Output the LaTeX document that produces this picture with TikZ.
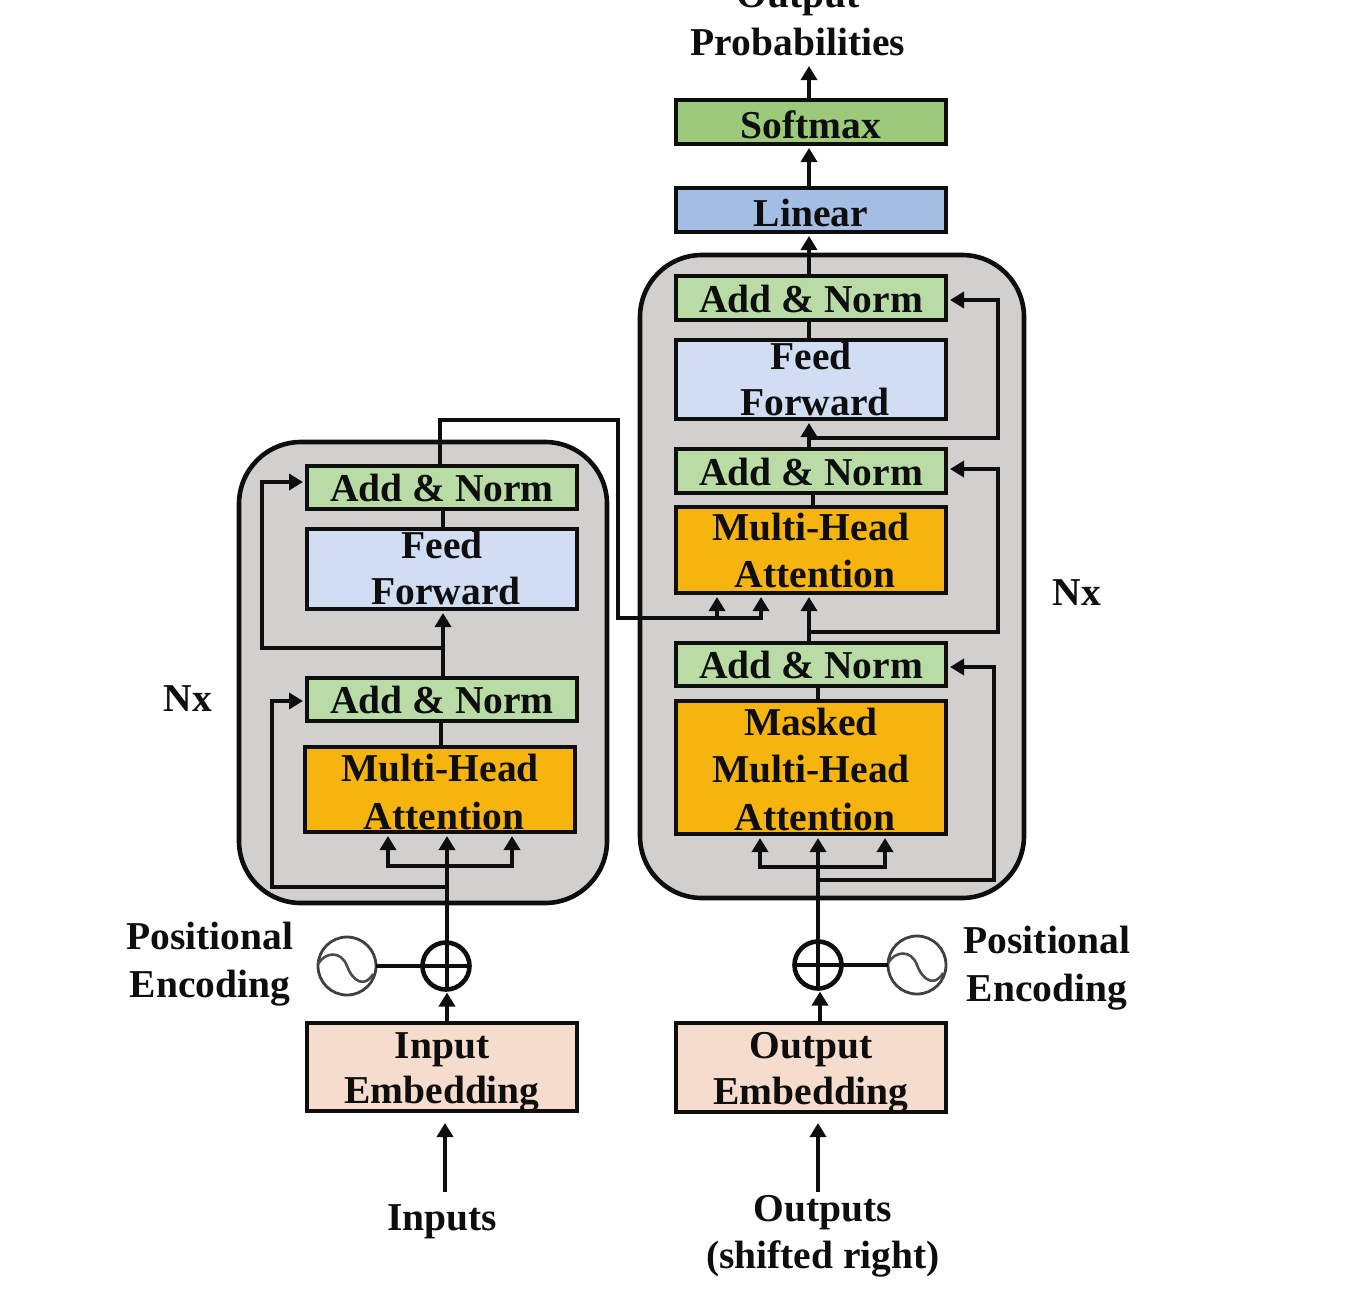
\documentclass[tikz,border=0pt]{standalone}
\usepackage{fontspec}
\setmainfont{Liberation Serif}
\usetikzlibrary{arrows.meta}
\definecolor{cSoft}{HTML}{9CC97A}
\definecolor{cLin}{HTML}{A4BDE2}
\definecolor{cAdd}{HTML}{B9DBA6}
\definecolor{cFF}{HTML}{D1DDF3}
\definecolor{cMHA}{HTML}{F6B40F}
\definecolor{cEmb}{HTML}{F6DCCC}
\definecolor{cGrey}{HTML}{D2CFCF}
\definecolor{cInk}{HTML}{0E0E0E}
\newcommand{\ltext}[2]{\raisebox{#1pt}[0pt][0pt]{\begin{tabular}{@{}c@{}}#2\end{tabular}}}
\tikzset{
  txt/.style={inner sep=0pt,outer sep=0pt,text=cInk,font=\fontsize{39.5}{47.5}\selectfont\bfseries},
  bx/.style n args={3}{txt,draw=cInk,line width=4.6pt,fill=#1,minimum width=#2pt,minimum height=#3pt},
  grp/.style n args={2}{draw=cInk,line width=4.6pt,fill=cGrey,rounded corners=62pt,minimum width=#1pt,minimum height=#2pt,inner sep=0pt,outer sep=0pt},
  sumnode/.style={circle,draw=cInk,line width=4.6pt,minimum size=47pt,inner sep=0pt,outer sep=0pt},
  osc/.style={circle,draw=black!75,line width=2.8pt,minimum size=58pt,inner sep=0pt,outer sep=0pt},
  sine/.style={draw=black!70,line width=2.6pt},
  conn/.style={draw=cInk,line width=4.6pt},
  arr/.style={conn,-{Triangle[length=14pt,width=16pt]}},
  short/.style={shorten >=4pt}
}
\begin{document}
\begin{tikzpicture}[x=1pt,y=-1pt]
\useasboundingbox (0,0) rectangle (1362,1294);
\clip (0,0) rectangle (1362,1294);
% groups
\node[grp={384}{643}] (grpD) at (832,576.5) {};
\node[grp={368}{461}] (grpE) at (423,672.5) {};
% decoder stack
\node[bx={cSoft}{270}{44}] (softmax) at (811,122) {\ltext{-13.5}{Softmax}};
\node[bx={cLin}{270}{44}] (linear) at (811,210) {\ltext{-13}{Linear}};
\node[bx={cAdd}{270}{44}] (addD3) at (811,298) {\ltext{-11}{Add \& Norm}};
\node[bx={cFF}{270}{79}] (ffD) at (811,379.5) {\ltext{-10}{Feed\\[-1.5pt]\hspace*{8pt}Forward}};
\node[bx={cAdd}{270}{44}] (addD2) at (811,471) {\ltext{-11}{Add \& Norm}};
\node[bx={cMHA}{270}{86}] (mhaD) at (811,550) {\ltext{-10.5}{Multi-Head\\\hspace*{8pt}Attention}};
\node[bx={cAdd}{270}{43}] (addD1) at (811,664.5) {\ltext{-11}{Add \& Norm}};
\node[bx={cMHA}{270}{133}] (masked) at (811,767.5) {\ltext{-12}{Masked\\Multi-Head\\\hspace*{8pt}Attention}};
\node[bx={cEmb}{270}{89}] (outEmb) at (811,1067.5) {\ltext{-10.5}{Output\\[-2pt]Embedding}};
% encoder stack
\node[bx={cAdd}{270}{43}] (addE2) at (442,487.5) {\ltext{-11}{Add \& Norm}};
\node[bx={cFF}{270}{80}] (ffE) at (442,569) {\ltext{-9.5}{Feed\\[-1.5pt]\hspace*{8pt}Forward}};
\node[bx={cAdd}{270}{43}] (addE1) at (442,699.5) {\ltext{-11}{Add \& Norm}};
\node[bx={cMHA}{270}{85}] (mhaE) at (440,789.5) {\ltext{-12.5}{Multi-Head\\\hspace*{8pt}Attention}};
\node[bx={cEmb}{270}{88}] (inEmb) at (442,1067) {\ltext{-10.5}{Input\\[-2pt]Embedding}};
% positional encoding
\node[sumnode] (sumE) at (446,966) {};
\node[sumnode] (sumD) at (818,965) {};
\node[osc] (oscE) at (347,966) {};
\node[osc] (oscD) at (917,965) {};
\draw[sine,shift={(oscE.center)}] (-29,-2) .. controls (-22,-14) and (-6,-16) .. (0,0) .. controls (6,16) and (18,22) .. (26,8);
\draw[sine,shift={(oscD.center)}] (-29,-2) .. controls (-22,-14) and (-6,-16) .. (0,0) .. controls (6,16) and (18,22) .. (26,8);
% free labels
\node[txt] (outProb) at (798,28) {\ltext{0}{Output\\Probabilities}};
\node[txt] (nxE) at (188,708) {\ltext{0}{Nx}};
\node[txt] (nxD) at (1077,602) {\ltext{0}{Nx}};
\node[txt] (peE) at (210,970) {\ltext{0}{Positional\\Encoding}};
\node[txt] (peD) at (1047,974) {\ltext{0}{Positional\\Encoding}};
\node[txt] (inLab) at (442,1227) {\ltext{0}{Inputs}};
\node[txt] (outLab) at (823,1241.5) {\ltext{0}{Outputs\\(shifted right)}};
% helper points
\coordinate (xD) at (809,0);
\coordinate (xDb) at (813,0);
\coordinate (xDm) at (818,0);
\coordinate (xDe) at (820,0);
\coordinate (pOut) at (809,66);
\coordinate (jD3) at (809,438);
\coordinate (rD3) at (998,300);
\coordinate (jD2) at (809,632);
\coordinate (rD2) at (998,469);
\coordinate (jDa) at (818,867);
\coordinate (jDb) at (818,880);
\coordinate (rD1) at (994,667);
\coordinate (xDl) at (760,0);
\coordinate (xDr) at (885,0);
\coordinate (xC) at (440,0);
\coordinate (cTR) at (618,420);
\coordinate (cBR) at (618,618);
\coordinate (xC2) at (761,0);
\coordinate (jC) at (717,618);
\coordinate (xE) at (443,0);
\coordinate (xEm) at (441,0);
\coordinate (xEs) at (447,0);
\coordinate (jE2) at (443,648);
\coordinate (lE2) at (262,482);
\coordinate (jEa) at (447,866);
\coordinate (jEb) at (447,887);
\coordinate (lE1) at (272,701);
\coordinate (xEl) at (388,0);
\coordinate (xEr) at (512,0);
\coordinate (inTail) at (445,1192);
\coordinate (outTail) at (818,1192);
% decoder connectors
\draw[arr] (softmax.north -| xD) -- (pOut);
\draw[arr,short] (linear.north -| xD) -- (softmax.south -| xD);
\draw[arr,short] (addD3.north -| xD) -- (linear.south -| xD);
\draw[conn] (ffD.north -| xD) -- (addD3.south -| xD);
\draw[arr,short] (addD2.north -| xD) -- (ffD.south -| xD);
\draw[arr,short] (jD3) -| (rD3) -- (addD3.east |- rD3);
\draw[conn] (mhaD.north -| xDb) -- (addD2.south -| xDb);
\draw[arr,short] (addD1.north -| xD) -- (mhaD.south -| xD);
\draw[arr,short] (jD2) -| (rD2) -- (addD2.east |- rD2);
\draw[conn] (masked.north -| xDm) -- (addD1.south -| xDm);
\draw[arr,short] (sumD.south) -- (masked.south -| xDm);
\draw[arr,short] (jDa) -| (masked.south -| xDl);
\draw[arr,short] (jDa) -| (masked.south -| xDr);
\draw[arr,short] (jDb) -| (rD1) -- (addD1.east |- rD1);
\draw[conn] (sumD.west) -- (sumD.east);
\draw[conn] (sumD.east) -- (oscD.west);
\draw[arr,shorten >=3pt] (outEmb.north -| xDe) -- (sumD.south -| xDe);
\draw[arr,shorten >=11pt] (outTail) -- (outEmb.south -| outTail);
% cross attention
\draw[arr,short] (addE2.north -| xC) |- (cTR) -- (cBR) -| (mhaD.south -| xC2);
\draw[arr,short] (jC) -- (mhaD.south -| jC);
% encoder connectors
\draw[conn] (ffE.north -| xE) -- (addE2.south -| xE);
\draw[arr,short] (addE1.north -| xE) -- (ffE.south -| xE);
\draw[arr,short] (jE2) -| (lE2) -- (addE2.west |- lE2);
\draw[conn] (mhaE.north -| xEm) -- (addE1.south -| xEm);
\draw[arr,short] (sumE.south -| xEs) -- (mhaE.south -| xEs);
\draw[arr,short] (jEa) -| (mhaE.south -| xEl);
\draw[arr,short] (jEa) -| (mhaE.south -| xEr);
\draw[arr,short] (jEb) -| (lE1) -- (addE1.west |- lE1);
\draw[conn] (sumE.west) -- (sumE.east);
\draw[conn] (oscE.east) -- (sumE.west);
\draw[arr,shorten >=3pt] (inEmb.north -| xEs) -- (sumE.south -| xEs);
\draw[arr,shorten >=12pt] (inTail) -- (inEmb.south -| inTail);
\end{tikzpicture}
\end{document}
